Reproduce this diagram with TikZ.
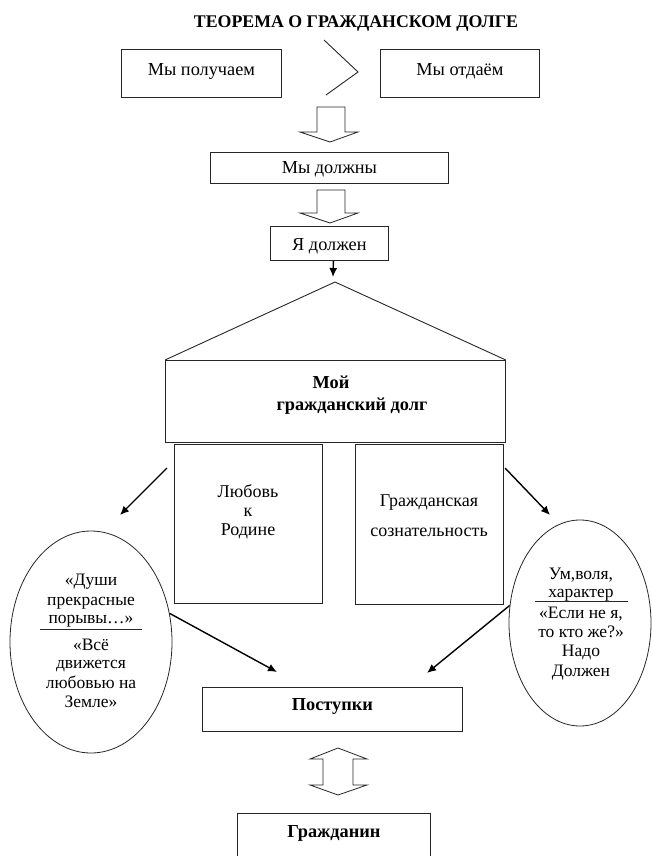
\documentclass[tikz,border=0pt]{standalone}
\usepackage{fontspec}
\setmainfont{Liberation Serif}
\usetikzlibrary{arrows.meta,shapes.geometric}
\begin{document}
\begin{tikzpicture}[x=1pt,y=-1pt,
  box/.style={draw=black!85, line width=0.8pt, inner xsep=0pt, inner ysep=0pt,
    minimum height=0pt, anchor=north west, font=\fontsize{18.3}{20}\selectfont},
  txt/.style={anchor=base, inner sep=0pt, font=\fontsize{17.5}{19.5}\selectfont},
  btxt/.style={anchor=base, inner sep=0pt, font=\fontsize{18}{20}\selectfont},
  bold/.style={font=\fontsize{18.3}{20}\selectfont\bfseries},
  thinline/.style={line width=0.9pt, draw=black!85},
  arr/.style={line width=1.4pt, -{Latex[length=9pt,width=8pt]}},
  blk/.style={draw=black!85, line width=0.8pt, fill=white, line join=miter},
  oval/.style={ellipse, draw=black!85, line width=0.8pt, inner sep=0pt}]
\useasboundingbox (0,0) rectangle (651,856);

% title
\node[txt, font=\fontsize{17.8}{20}\selectfont\bfseries] (title) at (356,28) {ТЕОРЕМА О ГРАЖДАНСКОМ ДОЛГЕ};

% top row
\node[box, minimum width=160pt, text height=26pt, text depth=22pt] (a) at (121,49) {Мы получаем};
\node[box, minimum width=159pt, text height=26pt, text depth=22pt] (b) at (380,49) {Мы отдаём};
\draw[thinline] (324,40) -- (358,72) -- (326,95);

% block arrow 1
\draw[blk] (317,107) -- (345,107) -- (345,132) -- (358,132) -- (330,142) -- (300,132) -- (317,132) -- cycle;
\node[box, minimum width=238pt, text height=21pt, text depth=10pt] (c) at (210,152) {Мы должны};
% block arrow 2
\draw[blk] (317,190) -- (345,190) -- (345,213) -- (358,213) -- (330,223) -- (300,213) -- (317,213) -- cycle;
\node[box, minimum width=118pt, text height=24pt, text depth=10pt] (d) at (270,226) {Я должен};

% roof and big box
\node[box, minimum width=340pt, minimum height=82pt] (e) at (165,360) {};
\coordinate (apex) at (335,282);
\draw[thinline] (e.north west) -- (apex) -- (e.north east);
\draw[arr] ([xshift=4pt]d.south) -- ([xshift=-2pt,yshift=5pt]apex);
\node[btxt, bold] (e1) at (331,388) {Мой};
\node[btxt, bold] (e2) at (352,410) {гражданский долг};

% two inner boxes
\node[box, minimum width=148pt, minimum height=159pt] (f) at (174,444) {};
\node[btxt] (f1) at (248,497) {Любовь};
\node[btxt] (f2) at (248,516) {к};
\node[btxt] (f3) at (248,535) {Родине};
\node[box, minimum width=148pt, minimum height=160pt] (g) at (355,444) {};
\node[btxt] (g1) at (429,506) {Гражданская};
\node[btxt] (g2) at (429,536) {сознательность};

% ellipses
\node[oval, minimum width=162pt, minimum height=222pt] (L) at (91,642) {};
\node[oval, minimum width=142pt, minimum height=206pt] (R) at (580,623) {};
\draw[thinline] ([shift={(-51,-13)}]L.center) -- ++(102,0);
\draw[thinline] ([shift={(-45,-22)}]R.center) -- ++(93,0);
\foreach \t/\y [count=\i] in {{«Души}/585, {прекрасные}/605, {порывы…»}/623,
    {«Всё}/650, {движется}/668, {любовью на}/688, {Земле»}/707}
  \node[txt] (lt\i) at (91,\y) {\t};
\foreach \t/\y [count=\i] in {{Ум,воля,}/579, {характер}/597, {«Если не я,}/618,
    {то кто же?»}/637, {Надо}/656, {Должен}/676}
  \node[txt] (rt\i) at (581,\y) {\t};

% actions box
\node[box, bold, minimum width=260pt, text height=23pt, text depth=21pt] (h) at (202,687) {Поступки};
% double block arrow
\draw[blk] (338,748) -- (367,759) -- (353,759) -- (353,785) -- (367,785) -- (338,795)
  -- (310,785) -- (323,785) -- (323,759) -- (310,759) -- cycle;
\node[box, bold, minimum width=193pt, text height=24pt, text depth=25pt] (i) at (237,813) {Гражданин};

% arrows
\coordinate (fs) at (167,468);
\coordinate (fe) at (120,515);
\coordinate (gs) at (505,468);
\coordinate (ge) at (550,515);
\coordinate (hl) at (277,672);
\coordinate (hr) at (427,673);
\draw[arr] (fs) -- (fe);
\draw[arr] (gs) -- (ge);
\draw[arr] (L.20) -- (hl);
\draw[arr] (R.166) -- (hr);
\end{tikzpicture}
\end{document}
